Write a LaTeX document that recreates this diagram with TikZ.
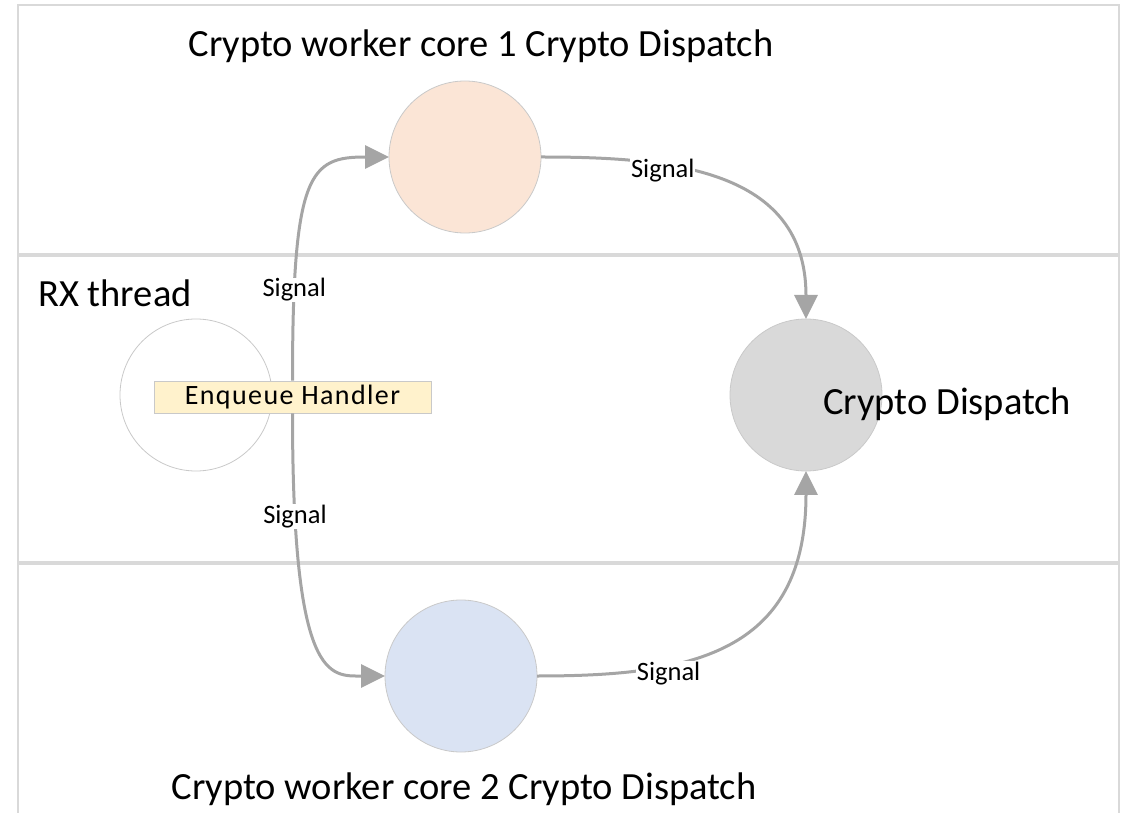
\documentclass[tikz,border=0pt]{standalone}
\usepackage{fontspec}
\setmainfont{Carlito}
\newfontfamily\hdlfont[LetterSpace=5]{Carlito}
\usetikzlibrary{arrows.meta,positioning}
\definecolor{laneGray}{HTML}{D9D9D9}
\definecolor{rimGray}{HTML}{C9C9C9}
\definecolor{sigGray}{HTML}{A5A5A5}
\definecolor{coreOrange}{HTML}{FBE5D6}
\definecolor{coreBlue}{HTML}{DAE3F3}
\definecolor{coreGray}{HTML}{D9D9D9}
\definecolor{hdlYellow}{HTML}{FFF2CC}
\tikzset{
 cd lane/.style={draw=laneGray,line width=1.5pt},
 cd core/.style={circle,draw=rimGray,line width=.8pt,minimum size=152pt,
                 inner sep=0pt,outer sep=0pt},
 cd handler/.style={draw=rimGray,fill=hdlYellow,line width=.8pt,minimum width=277pt,
                    minimum height=32pt,inner sep=0pt,font=\hdlfont\fontsize{28}{32}\selectfont},
 cd title/.style={font=\fontsize{38.5}{44}\selectfont,inner sep=0pt},
 cd signal/.style={draw=sigGray,line width=3pt,-{Triangle[length=24pt,width=23pt]}},
 cd signal label/.style={fill=white,text=black,inner sep=1pt,
                         font=\fontsize{26.5}{30}\selectfont}
}
\begin{document}
\begin{tikzpicture}[x=1pt,y=1pt]
 \useasboundingbox (0,0) rectangle (1124,812);
 % lanes
 \foreach \top/\bot in {807/558,556/250,248/-10}{
   \draw[cd lane] (18,\bot) rectangle (1119,\top);
 }
 \node[cd title,anchor=base] (t1) at (481,755) {Crypto worker core 1 Crypto Dispatch};
 \node[cd title,anchor=base west] (t2) at (38,505) {RX thread};
 \node[cd title,anchor=base] (t3) at (464,13) {Crypto worker core 2 Crypto Dispatch};
 % cores
 \node[cd core,fill=coreOrange] (w1) at (465,655) {};
 \node[cd core,fill=white] (rx) at (196,417) {};
 \node[cd core,fill=coreGray] (disp) at (806,417) {};
 \node[cd core,fill=coreBlue] (w2) at (461,136) {};
 \node[cd title,anchor=base west] (dlbl) at (823,397) {Crypto Dispatch};
 \node[cd handler] (hdl) at (292.5,415) {Enqueue Handler};
 % signals
 \draw[cd signal] (hdl.north) .. controls +(0,209) and +(-79,0) .. (w1.west)
   node[cd signal label,pos=.17] (s2) {Signal};
 \draw[cd signal] (hdl.south) .. controls +(0,-269) and +(-55,0) .. (w2.west)
   node[cd signal label,pos=.15] (s3) {Signal};
 \draw[cd signal] (w1.east) .. controls +(130,0) and +(0,150) .. (disp.north)
   node[cd signal label,pos=.32,yshift=-6pt] (s1) {Signal};
 \draw[cd signal] (w2.east) .. controls +(150,0) and +(0,-185) .. (disp.south)
   node[cd signal label,pos=.32,yshift=-8pt] (s4) {Signal};
\end{tikzpicture}
\end{document}
